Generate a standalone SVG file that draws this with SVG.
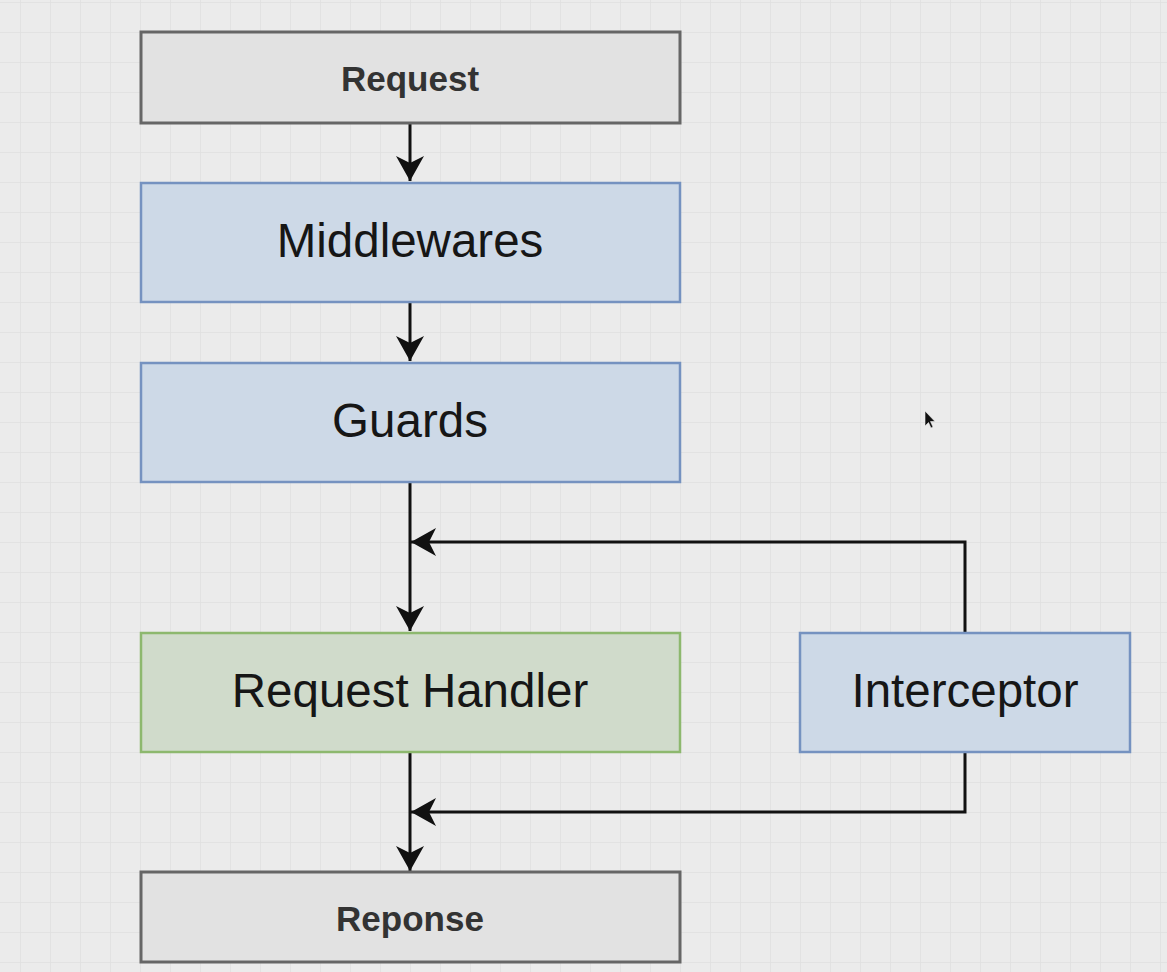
<svg xmlns="http://www.w3.org/2000/svg" width="1167" height="972" viewBox="0 0 1167 972">
  <defs>
    <pattern id="grid" x="20" y="2" width="30" height="30" patternUnits="userSpaceOnUse">
      <path d="M0 0 V30 M0 0 H30" fill="none" stroke="#e0e0e0" stroke-width="1.5"/>
    </pattern>
    <marker id="arrow" viewBox="0 0 26 28" refX="25" refY="14" markerWidth="26" markerHeight="28" markerUnits="userSpaceOnUse" orient="auto">
      <path d="M25 14 L0 0 L7 14 L0 28 Z" fill="#111"/>
    </marker>
  </defs>
  <style>
    .box-grey { fill: #e2e2e2; stroke: #666; stroke-width: 3; }
    .box-blue { fill: #cdd9e7; stroke: #7592c0; stroke-width: 2.5; }
    .box-green { fill: #d0dbcb; stroke: #8db86e; stroke-width: 2.5; }
    .label-small { font-family: "Liberation Sans", Arial, sans-serif; font-weight: bold; font-size: 35px; fill: #333; text-anchor: middle; }
    .label-big { font-family: "Liberation Sans", Arial, sans-serif; font-size: 47.5px; fill: #161616; text-anchor: middle; }
    .edge { fill: none; stroke: #111; stroke-width: 3; }
  </style>

  <!-- canvas -->
  <rect width="1167" height="972" fill="#ebebeb"/>
  <rect width="1167" height="972" fill="url(#grid)"/>

  <!-- connectors -->
  <g id="connectors">
    <path class="edge" d="M410 123 V181" marker-end="url(#arrow)"/>
    <path class="edge" d="M410 302 V361" marker-end="url(#arrow)"/>
    <path class="edge" d="M410 482 V631" marker-end="url(#arrow)"/>
    <path class="edge" d="M410 752 V871" marker-end="url(#arrow)"/>
    <path class="edge" d="M965 632 V542 H411" marker-end="url(#arrow)"/>
    <path class="edge" d="M965 752 V812 H411" marker-end="url(#arrow)"/>
  </g>

  <!-- nodes -->
  <g id="request">
    <rect class="box-grey" x="141" y="32" width="539" height="91"/>
    <text class="label-small" x="410" y="91">Request</text>
  </g>
  <g id="middlewares">
    <rect class="box-blue" x="141" y="183" width="539" height="119"/>
    <text class="label-big" x="410" y="257">Middlewares</text>
  </g>
  <g id="guards">
    <rect class="box-blue" x="141" y="363" width="539" height="119"/>
    <text class="label-big" x="410" y="437">Guards</text>
  </g>
  <g id="request-handler">
    <rect class="box-green" x="141" y="633" width="539" height="119"/>
    <text class="label-big" x="410" y="707">Request Handler</text>
  </g>
  <g id="interceptor">
    <rect class="box-blue" x="800" y="633" width="330" height="119"/>
    <text class="label-big" x="965" y="707">Interceptor</text>
  </g>
  <g id="response">
    <rect class="box-grey" x="141" y="872" width="539" height="90"/>
    <text class="label-small" x="410" y="931">Reponse</text>
  </g>

  <!-- mouse pointer -->
  <path d="M925 411 L925 426 L928.5 422.5 L931 428 L933 427 L930.5 421.5 L935 421.5 Z" fill="#111" stroke="#eee" stroke-width="0.6"/>
</svg>
